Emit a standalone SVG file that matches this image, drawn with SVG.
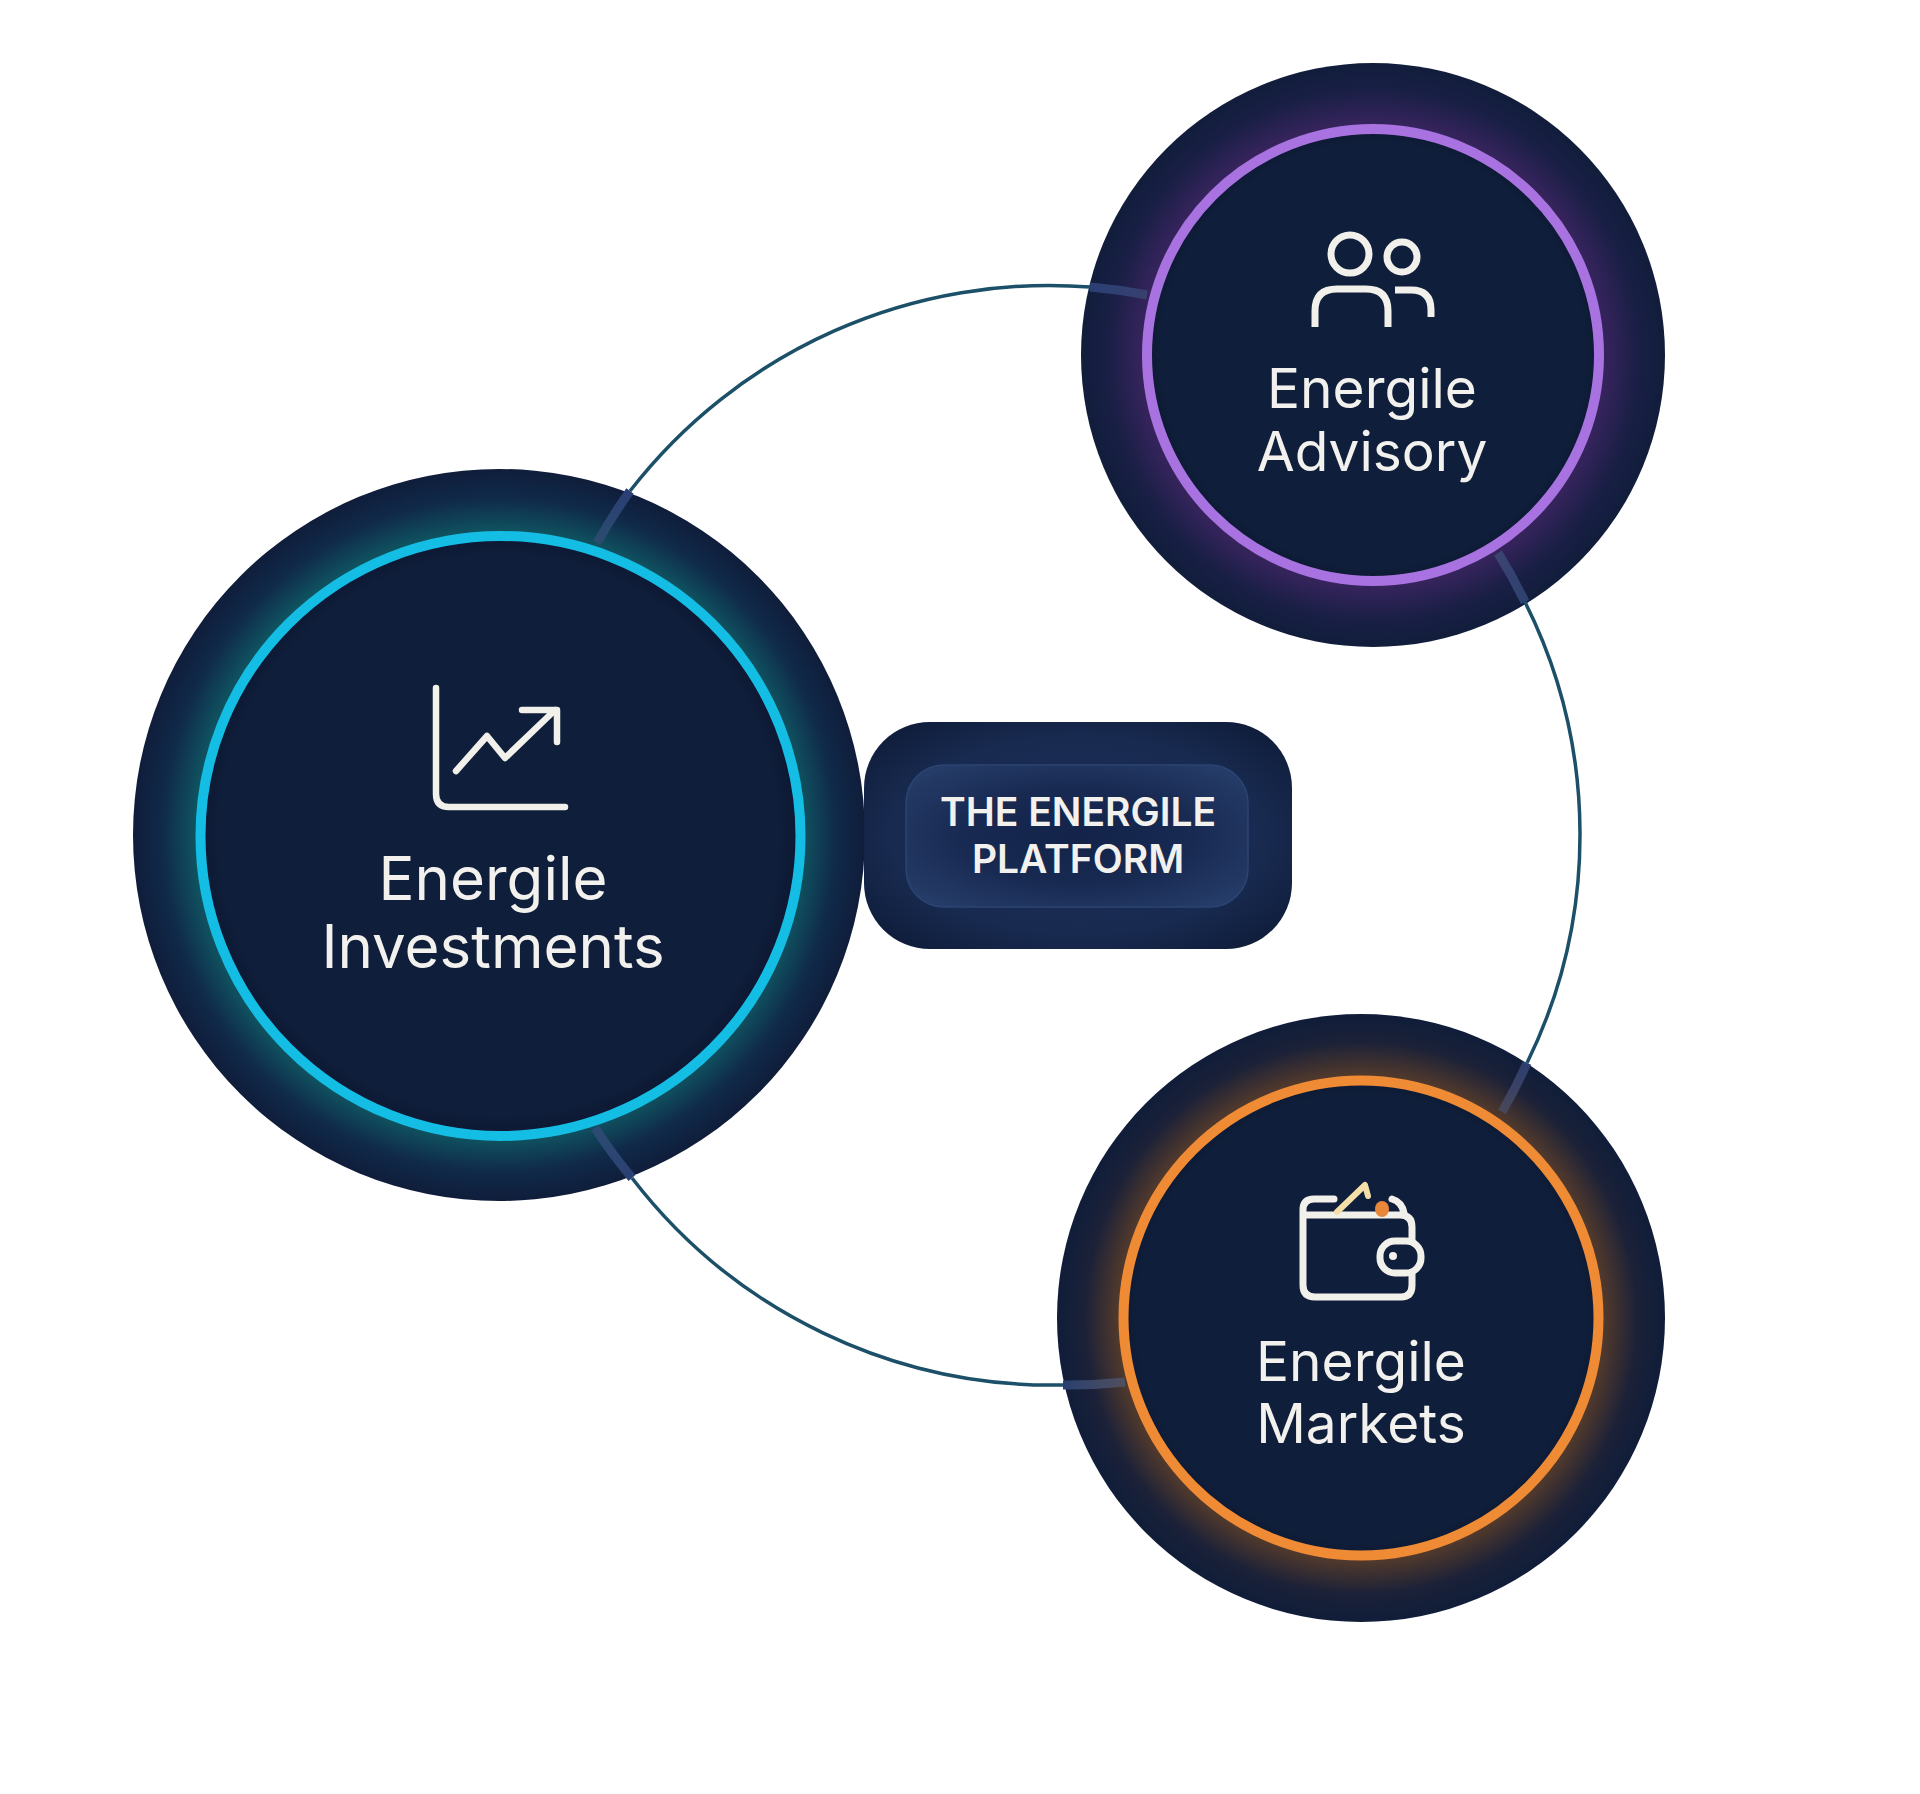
<svg xmlns="http://www.w3.org/2000/svg" width="1920" height="1794" viewBox="0 0 1920 1794">
<style>
text{font-family:"Inter","Liberation Sans",sans-serif;fill:#f2f1ee;text-anchor:middle}
.lbl-l{font-size:60px}
.lbl-s{font-size:55px}
.pill{font-size:39px;font-weight:600}
.ic{fill:none;stroke:#f2f0ea;stroke-linecap:round;stroke-linejoin:round}
.thin{fill:none;stroke:#1c5068;stroke-width:3.5}
.band{fill:none;stroke-width:9}
</style>
<defs>
<radialGradient id="gInv"><stop offset="0" stop-color="#0f1f3b"/><stop offset=".76" stop-color="#0f1f3b"/><stop offset=".812" stop-color="#0d1834"/><stop offset=".825" stop-color="#0f5561"/><stop offset=".92" stop-color="#102a4a"/><stop offset="1" stop-color="#0f1d3a"/></radialGradient>
<radialGradient id="gAdv"><stop offset="0" stop-color="#0f1f3b"/><stop offset=".72" stop-color="#0f1f3b"/><stop offset=".77" stop-color="#0d1934"/><stop offset=".785" stop-color="#38245e"/><stop offset=".91" stop-color="#191f45"/><stop offset="1" stop-color="#111d3b"/></radialGradient>
<radialGradient id="gMkt"><stop offset="0" stop-color="#0f1f3b"/><stop offset=".73" stop-color="#0f1f3b"/><stop offset=".775" stop-color="#0e1a34"/><stop offset=".795" stop-color="#533a2b"/><stop offset=".91" stop-color="#1b2138"/><stop offset="1" stop-color="#101d39"/></radialGradient>
<radialGradient id="gPillOut" cx=".5" cy=".5" r=".62"><stop offset="0" stop-color="#1c2f58"/><stop offset=".7" stop-color="#182a50"/><stop offset="1" stop-color="#101e3c"/></radialGradient>
<radialGradient id="gPillIn" cx=".5" cy=".5" r=".62"><stop offset="0" stop-color="#13234a"/><stop offset=".55" stop-color="#182a52"/><stop offset="1" stop-color="#253c68"/></radialGradient>
<linearGradient id="b1" gradientUnits="userSpaceOnUse" x1="630" y1="491" x2="597" y2="543"><stop offset="0" stop-color="#2b3f75"/><stop offset="1" stop-color="#2a4c6e"/></linearGradient>
<linearGradient id="b2" gradientUnits="userSpaceOnUse" x1="1090" y1="287" x2="1147" y2="295"><stop offset="0" stop-color="#2a3f74"/><stop offset="1" stop-color="#38406f"/></linearGradient>
<linearGradient id="b3" gradientUnits="userSpaceOnUse" x1="1525" y1="602" x2="1498" y2="553"><stop offset="0" stop-color="#2d4170"/><stop offset="1" stop-color="#3c4472"/></linearGradient>
<linearGradient id="b4" gradientUnits="userSpaceOnUse" x1="1527" y1="1063" x2="1502" y2="1112"><stop offset="0" stop-color="#2c3d70"/><stop offset="1" stop-color="#484858"/></linearGradient>
<linearGradient id="b5" gradientUnits="userSpaceOnUse" x1="1063" y1="1385" x2="1125" y2="1382"><stop offset="0" stop-color="#2a3f70"/><stop offset="1" stop-color="#50505e"/></linearGradient>
<linearGradient id="b6" gradientUnits="userSpaceOnUse" x1="632" y1="1178" x2="595" y2="1128"><stop offset="0" stop-color="#2b3f72"/><stop offset="1" stop-color="#2c4c72"/></linearGradient>
</defs>
<rect width="1920" height="1794" fill="#ffffff"/>
<g id="node-investments">
<circle cx="499" cy="835" r="366" fill="url(#gInv)"/>
<circle cx="500.5" cy="836" r="300" fill="none" stroke="#14bde4" stroke-width="10"/>
<path class="ic" stroke-width="6.5" d="M436 688V794Q436 807 449 807H565"/>
<path class="ic" stroke-width="6.5" d="M456 771L487 736L505 758L555 710M522 710H557V742"/>
<text class="lbl-l" x="493" y="900">Energile</text>
<text class="lbl-l" x="493" y="968">Investments</text>
</g>
<g id="node-advisory">
<circle cx="1373" cy="355" r="292" fill="url(#gAdv)"/>
<circle cx="1373" cy="355" r="226" fill="none" stroke="#a873e0" stroke-width="10"/>
<circle class="ic" cx="1350" cy="254" r="19" stroke-width="7"/>
<circle class="ic" cx="1402" cy="257" r="15" stroke-width="7"/>
<path class="ic" stroke-width="7" style="stroke-linecap:butt" d="M1315 327V311Q1315 289 1337 289H1366Q1388 289 1388 311V327"/>
<path class="ic" stroke-width="7" style="stroke-linecap:butt" d="M1395 290H1411Q1431 290 1431 310V317"/>
<text class="lbl-s" x="1372" y="408">Energile</text>
<text class="lbl-s" x="1372" y="471">Advisory</text>
</g>
<g id="node-markets">
<circle cx="1361" cy="1318" r="304" fill="url(#gMkt)"/>
<circle cx="1361" cy="1318" r="237.5" fill="none" stroke="#f08b35" stroke-width="10"/>
<path class="ic" stroke-width="7" d="M1334 1199H1314Q1303 1199 1303 1210V1285Q1303 1297 1315 1297H1401Q1412 1297 1412 1285V1274M1412 1240V1227Q1412 1215 1400 1215H1304"/>
<path class="ic" stroke-width="7" d="M1392 1199Q1402 1202 1404 1213"/>
<rect x="1380" y="1241" width="41" height="32" rx="15" fill="#0f1f3b" stroke="#f2f0ea" stroke-width="7"/>
<circle cx="1393" cy="1256" r="4" fill="#f2f0ea"/>
<path fill="none" stroke="#f4dfa8" stroke-width="6" stroke-linecap="round" stroke-linejoin="round" d="M1337 1212L1365 1185L1368 1196"/>
<ellipse cx="1382" cy="1209" rx="7" ry="8" fill="#e8863a"/>
<text class="lbl-s" x="1361" y="1381">Energile</text>
<text class="lbl-s" x="1361" y="1443">Markets</text>
</g>
<g id="node-platform">
<rect x="864" y="722" width="428" height="227" rx="66" fill="url(#gPillOut)"/>
<rect x="906" y="765" width="342" height="142" rx="38" fill="url(#gPillIn)" stroke="#2b4470" stroke-width="1.5"/>
<text class="pill" x="1078" y="826">THE ENERGILE</text>
<text class="pill" x="1078" y="873">PLATFORM</text>
</g>
<g id="connectors">
<path class="thin" d="M630 491A530 530 0 0 1 1090 287"/>
<path class="thin" d="M1525 602A519 519 0 0 1 1527 1063"/>
<path class="thin" d="M1063 1385A530 530 0 0 1 632 1178"/>
<path class="band" stroke="url(#b1)" d="M597 543A530 530 0 0 1 630 491"/>
<path class="band" stroke="url(#b2)" d="M1090 287A530 530 0 0 1 1147 295"/>
<path class="band" stroke="url(#b3)" d="M1498 553A519 519 0 0 1 1525 602"/>
<path class="band" stroke="url(#b4)" d="M1527 1063A519 519 0 0 1 1502 1112"/>
<path class="band" stroke="url(#b5)" d="M1125 1382A530 530 0 0 1 1063 1385"/>
<path class="band" stroke="url(#b6)" d="M632 1178A530 530 0 0 1 595 1128"/>
</g>
</svg>
